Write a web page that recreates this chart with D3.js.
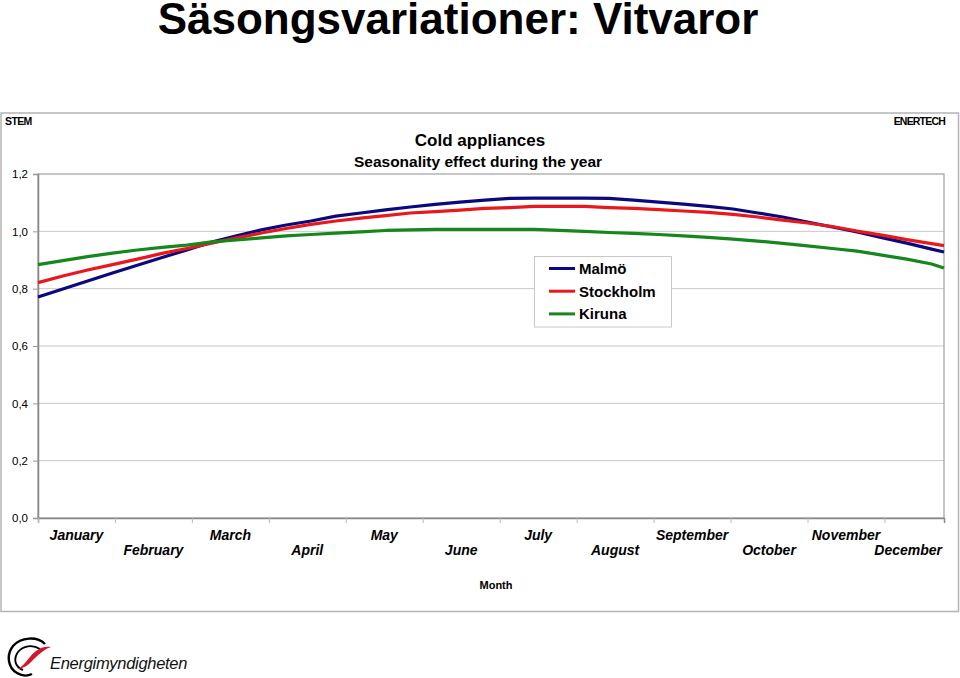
<!DOCTYPE html>
<html>
<head>
<meta charset="utf-8">
<script src="https://cdn.jsdelivr.net/npm/d3@7"></script>
<style>
  html, body { margin: 0; padding: 0; background: #fff; }
  svg { display: block; font-family: "Liberation Sans", Arial, sans-serif; }
</style>
</head>
<body>
<svg id="chart" width="960" height="678"></svg>
<script>
// ---- data ----
const days = [0,10,20,30,40,50,60,70,80,90,100,110,120,130,140,150,160,170,180,190,200,210,220,230,240,250,260,270,280,290,300,310,320,330,340,350,360,365];
const malmo = [0.771,0.799,0.827,0.855,0.882,0.909,0.935,0.963,0.984,1.005,1.022,1.036,1.053,1.064,1.075,1.085,1.094,1.102,1.109,1.115,1.116,1.116,1.116,1.115,1.109,1.102,1.095,1.087,1.078,1.064,1.050,1.032,1.015,0.998,0.978,0.959,0.938,0.928];
const stockholm = [0.821,0.844,0.865,0.884,0.903,0.923,0.940,0.959,0.977,0.994,1.010,1.024,1.036,1.046,1.055,1.064,1.069,1.074,1.080,1.083,1.087,1.087,1.087,1.083,1.080,1.076,1.071,1.066,1.059,1.050,1.039,1.029,1.017,1.001,0.987,0.971,0.957,0.950];
const kiruna = [0.884,0.898,0.912,0.924,0.935,0.944,0.952,0.963,0.970,0.977,0.984,0.989,0.994,0.998,1.003,1.005,1.007,1.007,1.007,1.007,1.007,1.003,1.000,0.996,0.993,0.989,0.984,0.979,0.973,0.966,0.958,0.949,0.940,0.931,0.917,0.903,0.886,0.872];
const seriesNames = ["Malmö","Stockholm","Kiruna"];
const seriesColors = ["#0a0a7e","#e8181c","#16871c"];
const months = ["January","February","March","April","May","June","July","August","September","October","November","December"];
const monthTickDays = [0,31,62,93,124,155,186,217,248,279,310,341];
const yTicks = [0,0.2,0.4,0.6,0.8,1.0,1.2];

const svg = d3.select("#chart");
svg.append("rect").attr("width",960).attr("height",678).attr("fill","#fff");

// Page title
svg.append("text").attr("x",458).attr("y",34).attr("text-anchor","middle")
  .attr("font-size",44).attr("font-weight","bold").attr("fill","#000")
  .text("Säsongsvariationer: Vitvaror");

// Chart frame
svg.append("rect").attr("x",1).attr("y",113).attr("width",957.5).attr("height",498.5)
  .attr("fill","#fff").attr("stroke","#b4b4b4").attr("stroke-width",1.5);

svg.append("text").attr("x",5).attr("y",125).attr("font-size",10.5).attr("font-weight","bold")
  .attr("letter-spacing",-0.6).text("STEM");
svg.append("text").attr("x",945).attr("y",125).attr("text-anchor","end").attr("font-size",10.5)
  .attr("font-weight","bold").attr("letter-spacing",-0.8).text("ENERTECH");

svg.append("text").attr("x",480).attr("y",146).attr("text-anchor","middle")
  .attr("font-size",17).attr("font-weight","bold").text("Cold appliances");
svg.append("text").attr("x",478).attr("y",167).attr("text-anchor","middle")
  .attr("font-size",15.5).attr("font-weight","bold").text("Seasonality effect during the year");

// scales
const x = d3.scaleLinear().domain([0,365]).range([38,944]);
const y = d3.scaleLinear().domain([0,1.2]).range([518,174]);
const locale = d3.formatLocale({decimal:",", thousands:" ", grouping:[3], currency:["","kr"]});
const fmt = locale.format(".1f");

// gridlines
svg.append("g").selectAll("line").data(yTicks.filter(d=>d>0 && d<1.2)).join("line")
  .attr("x1",x(0)).attr("x2",x(365)).attr("y1",d=>y(d)).attr("y2",d=>y(d))
  .attr("stroke","#c8c8c8").attr("stroke-width",1);

// plot border
svg.append("rect").attr("x",x(0)).attr("y",y(1.2)).attr("width",x(365)-x(0)).attr("height",y(0)-y(1.2))
  .attr("fill","none").attr("stroke","#a0a0a0").attr("stroke-width",1.2);

// y axis
const yAxis = d3.axisLeft(y).tickValues(yTicks).tickFormat(fmt).tickSize(5).tickPadding(5);
const gy = svg.append("g").attr("transform",`translate(${x(0)},0)`).call(yAxis);
gy.select(".domain").attr("stroke","#888").attr("stroke-width",1.5);
gy.selectAll(".tick line").attr("stroke","#999");
gy.selectAll(".tick text").attr("font-size",11.5).attr("fill","#000")
  .attr("font-family","'Liberation Sans', Arial, sans-serif");

// x axis
const xAxis = d3.axisBottom(x).tickValues(monthTickDays).tickFormat("").tickSize(5);
const gx = svg.append("g").attr("transform",`translate(0,${y(0)})`).call(xAxis);
gx.select(".domain").attr("stroke","#888").attr("stroke-width",1.5);
gx.selectAll(".tick line").attr("stroke","#bbb");

// month labels
const ml = svg.append("g").selectAll("text").data(months).join("text")
  .attr("x",(d,i)=>x(monthTickDays[i]+15.5))
  .attr("y",(d,i)=> i%2===0 ? 540 : 555)
  .attr("text-anchor","middle").attr("font-size",14).attr("font-weight","bold")
  .attr("font-style","italic").text(d=>d);
ml.each(function(){
  const w = this.getComputedTextLength();
  const cx = +this.getAttribute("x");
  if (cx + w/2 > 942) this.setAttribute("x", 942 - w/2);
});

svg.append("text").attr("x",496).attr("y",589).attr("text-anchor","middle")
  .attr("font-size",11).attr("font-weight","bold").text("Month");

// lines
const allSeries = [malmo, stockholm, kiruna];
const line = d3.line().x((d,i)=>x(days[i])).y(d=>y(d));
svg.append("g").selectAll("path").data(allSeries).join("path")
  .attr("d",d=>line(d)).attr("fill","none")
  .attr("stroke",(d,i)=>seriesColors[i]).attr("stroke-width",3.2)
  .attr("stroke-linejoin","round").attr("stroke-linecap","butt");

// legend
const lg = svg.append("g");
lg.append("rect").attr("x",534.5).attr("y",256.5).attr("width",137).attr("height",70.5)
  .attr("fill","#fff").attr("stroke","#c8c8c8").attr("stroke-width",1);
seriesNames.forEach((n,i)=>{
  const yy = 268.5 + i*22.7;
  lg.append("line").attr("x1",549).attr("x2",575).attr("y1",yy).attr("y2",yy)
    .attr("stroke",seriesColors[i]).attr("stroke-width",3);
  lg.append("text").attr("x",579).attr("y",yy+5.5).attr("font-size",15).attr("font-weight","bold")
    .text(n);
});

// logo
const logo = svg.append("g");
logo.append("path")
  .attr("d","M45,644 C37,636 21,637 13,646 C6,655 8,668 17,673 C22,676 28,676 32,674")
  .attr("fill","none").attr("stroke","#000").attr("stroke-width",2.4);
logo.append("path")
  .attr("d","M40,649 C32,644 23,646 18,652 C13,659 15,667 23,670")
  .attr("fill","none").attr("stroke","#000").attr("stroke-width",1.9);
logo.append("path")
  .attr("d","M18,669 C26,664 30,655 36,651 C41,647 46,646 51,647 C45,649 40,653 35,658 C30,663 26,668 18,669 Z")
  .attr("fill","#d8142a");
logo.append("text").attr("x",50).attr("y",669).attr("font-size",16.5).attr("font-style","italic")
  .attr("fill","#111").attr("letter-spacing",-0.3).text("Energimyndigheten");
</script>
</body>
</html>
